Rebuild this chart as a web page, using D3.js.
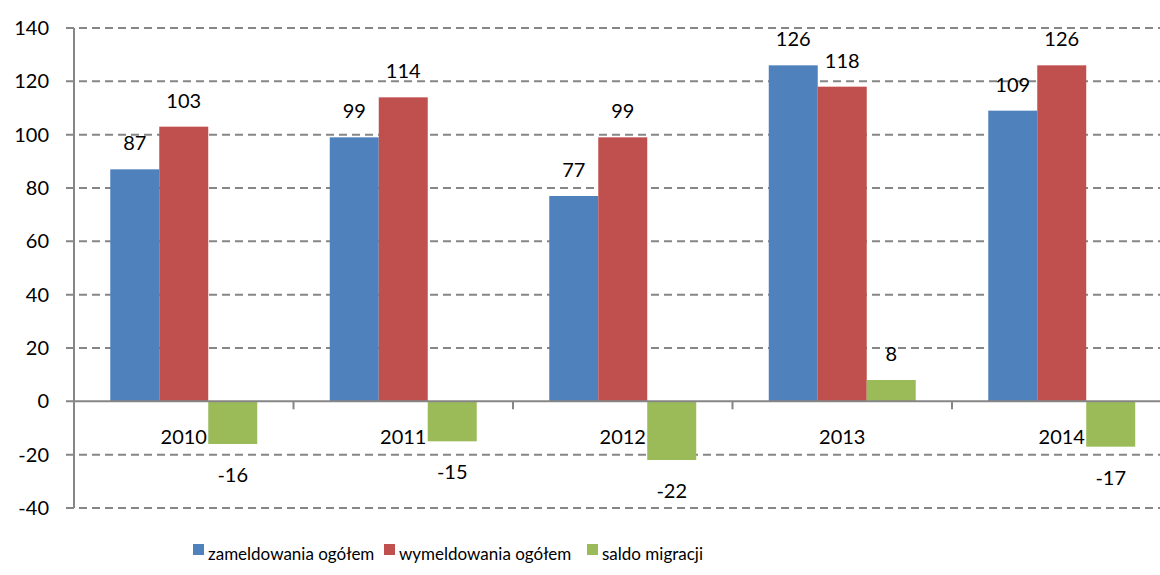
<!DOCTYPE html>
<html>
<head>
<meta charset="utf-8">
<script src="https://cdn.jsdelivr.net/npm/d3@7"></script>
<style>
body { margin: 0; background: #fff; }
text { font-family: Lato, "Open Sans", sans-serif; fill: #000; }
</style>
</head>
<body>
<div id="chart"></div>
<script>
// data
var years = ["2010", "2011", "2012", "2013", "2014"]
var seriesNames = ["zameldowania ogółem", "wymeldowania ogółem", "saldo migracji"]
var zameldowania = [87, 99, 77, 126, 109]
var wymeldowania = [103, 114, 99, 118, 126]
var saldo = [-16, -15, -22, 8, -17]
var yTicks = [-40, -20, 0, 20, 40, 60, 80, 100, 120, 140]
var colors = ["#4F81BD", "#C0504D", "#9BBB59"]

var values = [zameldowania, wymeldowania, saldo]
var rows = []
years.forEach((yr, i) => {
    seriesNames.forEach((s, j) => {
        rows.push({ year: yr, series: s, value: values[j][i], color: colors[j] })
    })
})

var W = 1160, H = 575
var left = 74, step = 219.5

var svg = d3.select('#chart').append("svg")
    .attr("width", W).attr("height", H)

var x = d3.scaleBand().domain(years).range([left, left + step * years.length])
var xs = d3.scaleBand().domain(seriesNames).range([0, x.bandwidth()]).paddingOuter(0.74)
var y = d3.scaleLinear().domain([-40, 140]).range([508, 28])

// dashed gridlines
svg.append("g")
    .selectAll("line")
    .data(yTicks.filter(d => d !== 0))
    .join("line")
    .attr("x1", 66).attr("x2", W)
    .attr("y1", d => y(d)).attr("y2", d => y(d))
    .attr("stroke", "#868686")
    .attr("stroke-width", 2)
    .attr("stroke-dasharray", "8,5")

// y tick labels
svg.append("g")
    .attr("font-size", 20)
    .attr("text-anchor", "end")
    .selectAll("text")
    .data(yTicks)
    .join("text")
    .attr("x", 49)
    .attr("y", d => y(d))
    .attr("dy", "0.35em")
    .text(d => d)

// category labels (drawn under the bars)
svg.append("g")
    .attr("font-size", 20)
    .attr("text-anchor", "middle")
    .selectAll("text")
    .data(years)
    .join("text")
    .attr("x", d => x(d) + x.bandwidth() / 2)
    .attr("y", y(0) + 43)
    .text(d => d)

// bars
svg.append("g")
    .selectAll("rect")
    .data(rows)
    .join("rect")
    .attr("x", d => x(d.year) + xs(d.series))
    .attr("width", xs.bandwidth())
    .attr("y", d => y(Math.max(0, d.value)))
    .attr("height", d => Math.abs(y(d.value) - y(0)))
    .attr("fill", d => d.color)

// value labels
svg.append("g")
    .attr("font-size", 20)
    .attr("text-anchor", "middle")
    .selectAll("text")
    .data(rows)
    .join("text")
    .attr("x", d => x(d.year) + xs(d.series) + xs.bandwidth() / 2)
    .attr("y", d => d.value >= 0 ? y(d.value) - 19 : y(d.value) + 38)
    .text(d => d.value)

// axes
var axes = svg.append("g").attr("stroke", "#868686").attr("stroke-width", 2)
axes.append("line")
    .attr("x1", left).attr("x2", left)
    .attr("y1", y(140)).attr("y2", y(-40))
axes.append("line")
    .attr("x1", 66).attr("x2", W)
    .attr("y1", y(0)).attr("y2", y(0))
axes.selectAll("line.tick")
    .data(years.slice(1))
    .join("line")
    .attr("class", "tick")
    .attr("x1", d => x(d)).attr("x2", d => x(d))
    .attr("y1", y(0)).attr("y2", y(0) + 8)

// legend
var legendX = [193, 384, 587]
var legend = svg.append("g")
    .selectAll("g")
    .data(seriesNames)
    .join("g")
    .attr("transform", (d, i) => `translate(${legendX[i]},555)`)
legend.append("rect")
    .attr("x", 0).attr("y", -11)
    .attr("width", 11).attr("height", 11)
    .attr("fill", (d, i) => colors[i])
legend.append("text")
    .attr("x", 15).attr("y", 0)
    .attr("dy", "0.3em")
    .attr("font-size", 17)
    .text(d => d)
</script>
</body>
</html>
